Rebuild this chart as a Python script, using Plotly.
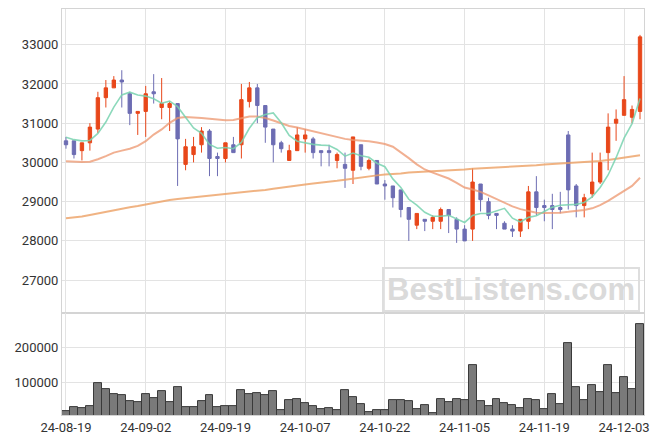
import plotly.graph_objects as go
from plotly.subplots import make_subplots

dates = [
    "24-08-19", "24-08-20", "24-08-21", "24-08-22", "24-08-23", "24-08-26", "24-08-27", "24-08-28", "24-08-29", "24-08-30",
    "24-09-02", "24-09-03", "24-09-04", "24-09-05", "24-09-06", "24-09-09", "24-09-10", "24-09-11", "24-09-12", "24-09-13",
    "24-09-19", "24-09-20", "24-09-23", "24-09-24", "24-09-25", "24-09-26", "24-09-27", "24-09-30", "24-10-02", "24-10-04",
    "24-10-07", "24-10-08", "24-10-10", "24-10-11", "24-10-14", "24-10-15", "24-10-16", "24-10-17", "24-10-18", "24-10-21",
    "24-10-22", "24-10-23", "24-10-24", "24-10-25", "24-10-28", "24-10-29", "24-10-30", "24-10-31", "24-11-01", "24-11-04",
    "24-11-05", "24-11-06", "24-11-07", "24-11-08", "24-11-11", "24-11-12", "24-11-13", "24-11-14", "24-11-15", "24-11-18",
    "24-11-19", "24-11-20", "24-11-21", "24-11-22", "24-11-25", "24-11-26", "24-11-27", "24-11-28", "24-11-29", "24-12-02",
    "24-12-03", "24-12-04", "24-12-05",
]

open_ = [30550, 30550, 30300, 30500, 30850, 31650, 31900, 32100, 31750, 31250,
         31300, 31800, 31400, 31400, 31500, 29950, 30200, 30450, 30800, 30150,
         30100, 30450, 30450, 31550, 31900, 31450, 30850, 30500, 30050, 30300,
         30600, 30600, 30300, 30300, 30050, 29950, 29800, 30450, 29850, 30050,
         29450, 29400, 29300, 28850, 28400, 28550, 28500, 28500, 28800, 28550,
         28300, 28300, 29450, 29000, 28700, 28450, 28300, 28250, 28500, 29250,
         28900, 28900, 28850, 30700, 29400, 28900, 29200, 29500, 30250, 31000,
         31200, 31150, 31300]
high = [30650, 30550, 30500, 31000, 31800, 32100, 32200, 32350, 31800, 31300,
        31950, 32250, 32150, 31550, 31500, 30600, 30650, 30900, 30850, 30250,
        30500, 30650, 32000, 32050, 32000, 31450, 30850, 30550, 30450, 30900,
        30850, 30650, 30300, 30450, 30250, 30250, 30650, 30450, 30100, 30050,
        29550, 29400, 29300, 28850, 28700, 28550, 28650, 28850, 28800, 28600,
        28400, 29850, 29450, 29100, 28700, 28500, 28400, 28550, 29400, 29650,
        29050, 29200, 29250, 30800, 29450, 29200, 30250, 30250, 31250, 31350,
        32200, 31450, 33250]
low = [30350, 30100, 30050, 30300, 30750, 31400, 31900, 31400, 30950, 30700,
       30650, 31500, 31100, 30800, 29400, 29800, 30000, 30250, 29650, 29650,
       30000, 30250, 30100, 31400, 31000, 30500, 30000, 30250, 30050, 30300,
       30250, 30100, 29900, 29900, 29850, 29350, 29450, 29800, 29800, 29450,
       29050, 28850, 28600, 28000, 28300, 28250, 28300, 28300, 28200, 27950,
       28000, 28000, 28750, 28550, 28300, 28300, 28100, 28100, 28300, 28650,
       28500, 28300, 28700, 28800, 28600, 28600, 29100, 29450, 29800, 30550,
       31200, 31000, 31100]
close = [30450, 30200, 30500, 30900, 31650, 31900, 32100, 32050, 31250, 31300,
         31750, 31750, 31500, 31500, 30600, 30400, 30400, 30800, 30100, 30100,
         30500, 30250, 31600, 31900, 31450, 30900, 30450, 30350, 30300, 30700,
         30700, 30250, 30250, 30250, 30200, 29850, 30650, 29900, 30050, 29450,
         29400, 29100, 28800, 28550, 28700, 28500, 28600, 28800, 28650, 28300,
         28000, 29500, 29050, 28650, 28650, 28300, 28250, 28550, 29250, 28850,
         28850, 28800, 28800, 29300, 28900, 29100, 29500, 30000, 30900, 31100,
         31600, 31350, 33200]
volume = [18000, 28600, 25700, 32300, 98000, 80000, 65700, 62900, 46600, 42900,
          65700, 54300, 75100, 42900, 85700, 28600, 28600, 46600, 63700, 28600,
          31400, 31400, 78000, 65700, 68600, 63700, 75100, 20900, 49400, 52300,
          40000, 32300, 23700, 26600, 20900, 78000, 57100, 37100, 14300, 20000,
          20000, 49400, 49400, 46600, 23700, 34300, 11400, 52300, 42900, 52300,
          49400, 151400, 46600, 31400, 52300, 40000, 34300, 26600, 52300, 49400,
          23700, 65700, 37100, 214300, 85700, 49400, 91400, 72300, 151400, 68600,
          114300, 80900, 268600]
ma5 = [30640, 30580, 30550, 30560, 30740, 31030, 31410, 31720, 31790, 31720,
       31690, 31620, 31510, 31560, 31420, 31150, 30880, 30740, 30460, 30360,
       30380, 30350, 30510, 30870, 31140, 31220, 31260, 31010, 30690, 30540,
       30500, 30460, 30440, 30430, 30330, 30160, 30240, 30170, 30130, 29980,
       29890, 29580, 29360, 29060, 28910, 28730, 28630, 28630, 28650, 28570,
       28470, 28650, 28700, 28700, 28770, 28830, 28580, 28480, 28600, 28640,
       28750, 28860, 28910, 28920, 28930, 28980, 29120, 29360, 29680, 30120,
       30620, 30990, 31630]
ma20 = [30030, 30020, 30010, 30020, 30080, 30160, 30250, 30300, 30350, 30420,
        30540, 30710, 30840, 31010, 31130, 31160, 31150, 31130, 31110, 31090,
        31075, 31080, 31130, 31170, 31170, 31130, 31070, 30990, 30930, 30890,
        30840, 30790, 30740, 30690, 30640, 30600, 30570, 30560, 30540, 30510,
        30470, 30400, 30260, 30110, 29950, 29820, 29740, 29670, 29590, 29480,
        29360, 29310, 29250, 29160, 29060, 28980, 28880, 28810, 28770, 28720,
        28710, 28710, 28720, 28740, 28760, 28790, 28830, 28910, 29020, 29150,
        29280, 29400, 29610]
ma_long = [28580, 28600, 28620, 28660, 28700, 28750, 28790, 28820, 28860, 28890,
           28930, 28970, 29010, 29040, 29070, 29090, 29110, 29130, 29150, 29170,
           29190, 29210, 29230, 29250, 29270, 29300, 29330, 29360, 29390, 29420,
           29440, 29460, 29480, 29500, 29530, 29560, 29590, 29620, 29650, 29670,
           29690, 29700, 29720, 29740, 29750, 29760, 29770, 29780, 29790, 29800,
           29820, 29840, 29850, 29860, 29880, 29890, 29900, 29910, 29920, 29930,
           29950, 29960, 29975, 29990, 30000, 30010, 30020, 30035, 30060, 30090,
           30120, 30150, 30185]

price_ticks = [27000, 28000, 29000, 30000, 31000, 32000, 33000]
volume_ticks = [100000, 200000]
x_tick_labels = ["24-08-19", "24-09-02", "24-09-19", "24-10-07", "24-10-22", "24-11-05", "24-11-19", "24-12-03"]

UP = "#E8471A"
DOWN = "#6D6DB3"
GRID = "#E3E3E3"
BORDER = "#D4D4D4"

fig = make_subplots(rows=2, cols=1, shared_xaxes=True, vertical_spacing=0,
                    row_heights=[0.749, 0.251])

fig.add_trace(go.Scatter(x=dates, y=ma_long, mode="lines",
                         line=dict(color="rgba(236,160,100,0.8)", width=2),
                         hoverinfo="skip", showlegend=False), row=1, col=1)
fig.add_trace(go.Scatter(x=dates, y=ma20, mode="lines",
                         line=dict(color="rgba(236,150,110,0.75)", width=2),
                         hoverinfo="skip", showlegend=False), row=1, col=1)
fig.add_trace(go.Scatter(x=dates, y=ma5, mode="lines",
                         line=dict(color="rgba(120,210,175,0.85)", width=1.6),
                         hoverinfo="skip", showlegend=False), row=1, col=1)

fig.add_trace(go.Candlestick(
    x=dates, open=open_, high=high, low=low, close=close,
    increasing=dict(line=dict(color=UP, width=1), fillcolor=UP),
    decreasing=dict(line=dict(color=DOWN, width=1), fillcolor=DOWN),
    whiskerwidth=0, showlegend=False), row=1, col=1)

fig.add_trace(go.Bar(x=dates, y=volume, marker=dict(color="#7A7A7A",
                     line=dict(color="#3A3A3A", width=1)),
                     showlegend=False), row=2, col=1)

axis_font = dict(family="Roboto, sans-serif", size=13, color="#333333")

# the page body has an 8px default margin, so the figure is sized to fit the window
fig.update_layout(
    width=655, height=436,
    margin=dict(l=54, r=19, t=1, b=29),
    paper_bgcolor="white", plot_bgcolor="white",
    bargap=0, boxgap=0.4,
    font=axis_font,
    showlegend=False,
    xaxis=dict(type="category", rangeslider=dict(visible=False),
               range=[-0.5, len(dates) - 0.5], automargin=False,
               tickvals=x_tick_labels, showticklabels=False,
               showgrid=True, gridcolor=GRID, gridwidth=1,
               showline=True, linecolor=BORDER, mirror=True, ticks=""),
    xaxis2=dict(type="category", range=[-0.5, len(dates) - 0.5], automargin=False,
                tickvals=x_tick_labels, ticktext=x_tick_labels,
                showgrid=True, gridcolor=GRID, gridwidth=1,
                showline=True, linecolor=BORDER, mirror=True, ticks="",
                tickfont=axis_font),
    yaxis=dict(range=[26160, 33910], tickvals=price_ticks, tickformat="d",
               automargin=False,
               showgrid=True, gridcolor=GRID, zeroline=False,
               showline=True, linecolor=BORDER, mirror=True, ticks="",
               tickfont=axis_font),
    yaxis2=dict(range=[6000, 300000], tickvals=volume_ticks, tickformat="d",
                automargin=False,
                showgrid=True, gridcolor=GRID, zeroline=False,
                showline=True, linecolor=BORDER, mirror=True, ticks="",
                tickfont=axis_font),
)

fig.add_annotation(
    text="<b>BestListens.com</b>", xref="paper", yref="paper",
    x=0.772, y=0.31, xanchor="center", yanchor="middle", showarrow=False,
    font=dict(family="Liberation Sans, Arial, sans-serif", size=31, color="#DADADA"),
    bordercolor="#DEDEDE", borderwidth=2, borderpad=3, bgcolor="rgba(255,255,255,0)")

fig.write_html("out.html")
